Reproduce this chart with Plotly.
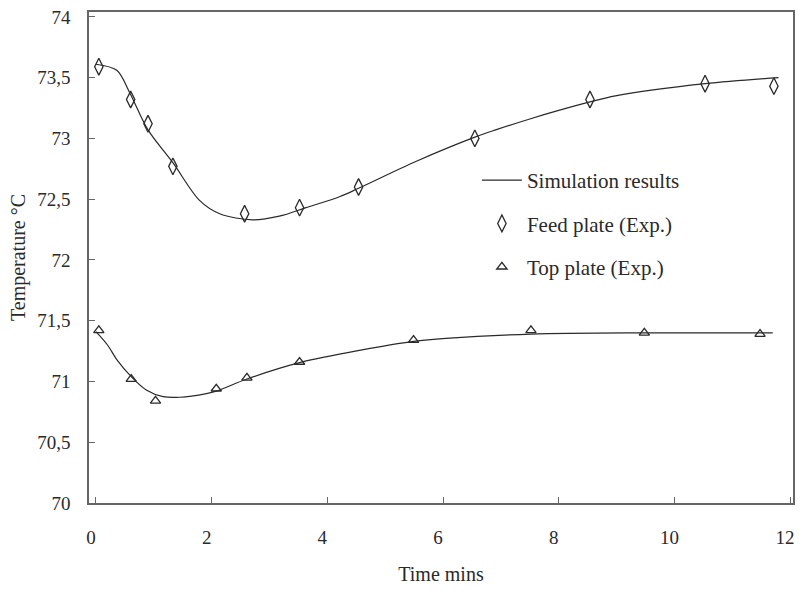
import plotly.graph_objects as go

# Experimental data
feed_t = [0.05, 0.60, 0.90, 1.33, 2.57, 3.52, 4.54, 6.55, 8.54, 10.53, 11.72]
feed_T = [73.59, 73.32, 73.12, 72.77, 72.38, 72.43, 72.60, 73.00, 73.32, 73.45, 73.43]

top_t = [0.05, 0.61, 1.03, 2.08, 2.61, 3.52, 5.49, 7.52, 9.48, 11.48]
top_T = [71.42, 71.02, 70.84, 70.94, 71.03, 71.16, 71.34, 71.42, 71.40, 71.39]

# Simulation curves
sim_feed_t = [0.0, 0.36, 0.59, 0.90, 1.33, 1.79, 2.14, 2.71, 3.17, 3.63, 4.21, 4.54,
              5.53, 6.55, 6.91, 7.50, 8.00, 8.54, 8.98, 10.53, 11.80]
sim_feed_T = [73.61, 73.56, 73.37, 73.07, 72.80, 72.49, 72.38, 72.33, 72.36, 72.43, 72.52, 72.59,
              72.81, 73.01, 73.07, 73.16, 73.23, 73.30, 73.35, 73.45, 73.50]

sim_top_t = [0.0, 0.20, 0.36, 0.61, 0.87, 1.16, 1.45, 1.91, 2.08, 2.61, 3.52, 4.60,
             5.49, 6.05, 7.52, 9.50, 11.70]
sim_top_T = [71.41, 71.30, 71.18, 71.04, 70.93, 70.875, 70.87, 70.90, 70.92, 71.02, 71.155, 71.26,
             71.33, 71.355, 71.39, 71.40, 71.40]

y_ticks = [70, 70.5, 71, 71.5, 72, 72.5, 73, 73.5, 74]
y_labels = ["70", "70,5", "71", "71,5", "72", "72,5", "73", "73,5", "74"]
x_ticks = [0, 2, 4, 6, 8, 10, 12]

FONT = "Liberation Serif, Times New Roman, serif"
INK = "#2a2a2a"

fig = go.Figure()
fig.add_trace(go.Scatter(x=sim_feed_t, y=sim_feed_T, mode="lines", name="Simulation results",
                         line=dict(color=INK, width=1.2, shape="spline", smoothing=0.9),
                         legendgroup="a"))
fig.add_trace(go.Scatter(x=sim_top_t, y=sim_top_T, mode="lines", name="Simulation results",
                         line=dict(color=INK, width=1.2, shape="spline", smoothing=0.9),
                         showlegend=False, legendgroup="a"))
fig.add_trace(go.Scatter(x=feed_t, y=feed_T, mode="markers", name="Feed plate (Exp.)",
                         marker=dict(symbol="diamond-tall-open", size=12, color=INK,
                                     line=dict(width=1.3, color=INK)),
                         legendgroup="b"))
fig.add_trace(go.Scatter(x=top_t, y=top_T, mode="markers", name="Top plate (Exp.)",
                         marker=dict(symbol="triangle-up-open", size=9, color=INK,
                                     line=dict(width=1.3, color=INK)),
                         legendgroup="c"))

fig.update_layout(
    width=800, height=590,
    margin=dict(l=89, r=5, t=12, b=87),
    paper_bgcolor="white", plot_bgcolor="white",
    font=dict(family=FONT, size=19, color=INK),
    legend=dict(x=(478 - 89) / 706, y=(503 - 160) / 491, xanchor="left", yanchor="top",
                bgcolor="rgba(0,0,0,0)", borderwidth=0, tracegroupgap=13,
                font=dict(family=FONT, size=21, color=INK), itemwidth=40),
)
fig.update_xaxes(range=[-0.12, 12.05], tickvals=x_ticks, ticks="inside", ticklen=6,
                 tickcolor="#666", tickwidth=1, showline=True, linecolor="#666", linewidth=1.5,
                 mirror=True, showgrid=False, zeroline=False, ticklabelstandoff=16,
                 ticklabelshift=-5,
                 title=dict(text="Time mins", font=dict(family=FONT, size=20), standoff=20))
fig.update_yaxes(range=[70, 74.04], tickvals=y_ticks, ticktext=y_labels, ticks="inside", ticklen=6,
                 tickcolor="#666", tickwidth=1, showline=True, linecolor="#666", linewidth=1.5,
                 mirror=True, showgrid=False, zeroline=False, ticklabelstandoff=13,
                 title=dict(text="Temperature °C", font=dict(family=FONT, size=20), standoff=6))

fig.write_html("out.html", config={"displayModeBar": False},
               post_script="document.body.style.margin='0px';")
